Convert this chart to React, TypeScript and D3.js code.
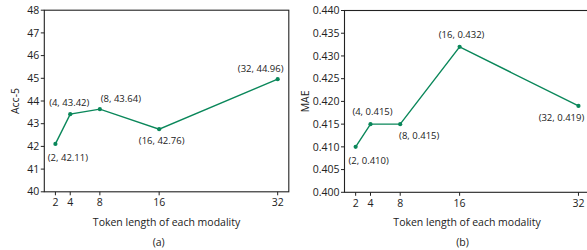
import * as d3 from "d3";
import React from "react";

const tokenLengths = [2, 4, 8, 16, 32];
const accValues = [42.11, 43.42, 43.64, 42.76, 44.96];
const maeValues = [0.41, 0.415, 0.415, 0.432, 0.419];
const accLabels = ["(2, 42.11)", "(4, 43.42)", "(8, 43.64)", "(16, 42.76)", "(32, 44.96)"];
const maeLabels = ["(2, 0.410)", "(4, 0.415)", "(8, 0.415)", "(16, 0.432)", "(32, 0.419)"];
const accTicks = [40, 41, 42, 43, 44, 45, 46, 47, 48];
const maeTicks = [0.4, 0.405, 0.41, 0.415, 0.42, 0.425, 0.43, 0.435, 0.44];

const GREEN = "#0a875a";
const FONT = "'Open Sans', 'DejaVu Sans', sans-serif";

type PanelProps = {
  left: number;
  right: number;
  top: number;
  bottom: number;
  values: number[];
  labels: string[];
  // pixel offsets of each annotation centre from its point
  offsets: [number, number][];
  yDomain: [number, number];
  yTicks: number[];
  yFmt: (v: number) => string;
  yTitle: string;
  yTitleX: number;
  caption: string;
  captionX: number;
};

const Panel = (p: PanelProps) => {
  const x = d3.scaleLinear().domain([0.5, 33.5]).range([p.left, p.right]);
  const y = d3.scaleLinear().domain(p.yDomain).range([p.bottom, p.top]);
  const line = d3
    .line<number>()
    .x((_, i) => x(tokenLengths[i]))
    .y((d) => y(d));
  const cx = (x(2) + x(32)) / 2;
  return (
    <g fontFamily={FONT} fill="#222">
      <rect
        x={p.left}
        y={p.top}
        width={p.right - p.left}
        height={p.bottom - p.top}
        fill="none"
        stroke="#222"
        strokeWidth={1.1}
      />
      {p.yTicks.map((t) => (
        <g key={t}>
          <line x1={p.left - 3.5} x2={p.left} y1={y(t)} y2={y(t)} stroke="#222" />
          <text x={p.left - 5} y={y(t)} dy="0.35em" textAnchor="end" fontSize={10.5}>
            {p.yFmt(t)}
          </text>
        </g>
      ))}
      {tokenLengths.map((t) => (
        <g key={t}>
          <line x1={x(t)} x2={x(t)} y1={p.bottom} y2={p.bottom + 3.5} stroke="#222" />
          <text x={x(t)} y={p.bottom + 11} dy="0.35em" textAnchor="middle" fontSize={10.5}>
            {t}
          </text>
        </g>
      ))}
      <text x={cx} y={222.5} dy="0.35em" textAnchor="middle" fontSize={10.5}>
        Token length of each modality
      </text>
      <text x={p.captionX} y={242.5} dy="0.35em" textAnchor="middle" fontSize={10.5}>
        {p.caption}
      </text>
      <text
        transform={`translate(${p.yTitleX},${(p.top + p.bottom) / 2}) rotate(-90)`}
        dy="0.35em"
        textAnchor="middle"
        fontSize={10.5}
      >
        {p.yTitle}
      </text>
      <path d={line(p.values) || ""} fill="none" stroke={GREEN} strokeWidth={1.4} />
      {p.values.map((v, i) => (
        <circle key={i} cx={x(tokenLengths[i])} cy={y(v)} r={2.1} fill={GREEN} />
      ))}
      {p.values.map((v, i) => (
        <text
          key={"l" + i}
          x={x(tokenLengths[i]) + p.offsets[i][0]}
          y={y(v) + p.offsets[i][1]}
          dy="0.35em"
          textAnchor="middle"
          fontSize={9.5}
        >
          {p.labels[i]}
        </text>
      ))}
    </g>
  );
};

export default function App() {
  return (
    <svg
      width={587}
      height={250}
      style={{ position: "absolute", left: 0, top: 0, background: "#fff" }}
    >
      <Panel
        left={44.3}
        right={288.8}
        top={10.2}
        bottom={191.8}
        values={accValues}
        labels={accLabels}
        offsets={[
          [12.5, 13.5],
          [-1, -11],
          [21, -10],
          [2.5, 11.5],
          [-17, -10.5],
        ]}
        yDomain={[40, 48]}
        yTicks={accTicks}
        yFmt={(v) => String(v)}
        yTitle="Acc-5"
        yTitleX={15}
        caption="(a)"
        captionX={158.7}
      />
      <Panel
        left={344.5}
        right={589.6}
        top={10.5}
        bottom={192.3}
        values={maeValues}
        labels={maeLabels}
        offsets={[
          [13, 14],
          [2, -12.5],
          [19, 11.5],
          [2, -12.5],
          [-17, 12],
        ]}
        yDomain={[0.4, 0.44]}
        yTicks={maeTicks}
        yFmt={(v) => v.toFixed(3)}
        yTitle="MAE"
        yTitleX={305}
        caption="(b)"
        captionX={462.5}
      />
    </svg>
  );
}
